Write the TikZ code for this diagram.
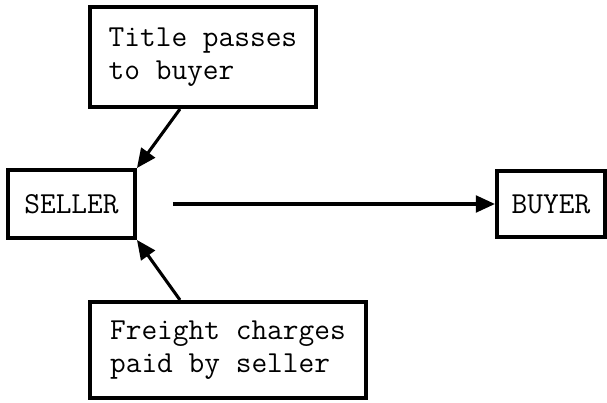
\documentclass[tikz,border=0pt]{standalone}
\usepackage{fontspec}
\usepackage{tikz}
\usetikzlibrary{positioning, arrows.meta}

\begin{document}
\begin{tikzpicture}[
    party/.style={draw=black, line width=2.8pt, rectangle, minimum width=3.175cm, minimum height=1.7cm, inner sep=0pt, font=\ttfamily\fontsize{21.7}{23.5}\selectfont},
    notebox/.style={draw=black, line width=2.8pt, rectangle, align=left, inner sep=0pt, font=\ttfamily\fontsize{21.7}{23.5}\selectfont},
    edge/.style={line width=2.2pt, -{Triangle[length=0.48cm, width=0.42cm]}}
]

% Rahmen des Bildes
\useasboundingbox (-1.7875,-4.975) rectangle (13.3875,5.1);

% Knoten
\node[party] (seller) {SELLER};
\node[party, minimum width=2.7cm, minimum height=1.65cm, right=8.95cm of seller] (buyer) {BUYER};
\node[notebox, minimum width=5.65cm, minimum height=2.5cm, above right=1.475cm and -1.225cm of seller] (title) {Title passes\\to buyer};
\node[notebox, minimum width=6.9cm, minimum height=2.4cm, below right=1.5cm and -1.225cm of seller] (freight) {Freight charges\\paid by seller};

% Freier Anfang des waagrechten Pfeils
\coordinate[right=0.9cm of seller] (ship);

% Kanten
\draw[edge] ([xshift=2.3cm]title.south west) -- (seller.north east);
\draw[edge] ([xshift=2.3cm]freight.north west) -- (seller.south east);
\draw[edge] (ship) -- (buyer.west);

\end{tikzpicture}
\end{document}
